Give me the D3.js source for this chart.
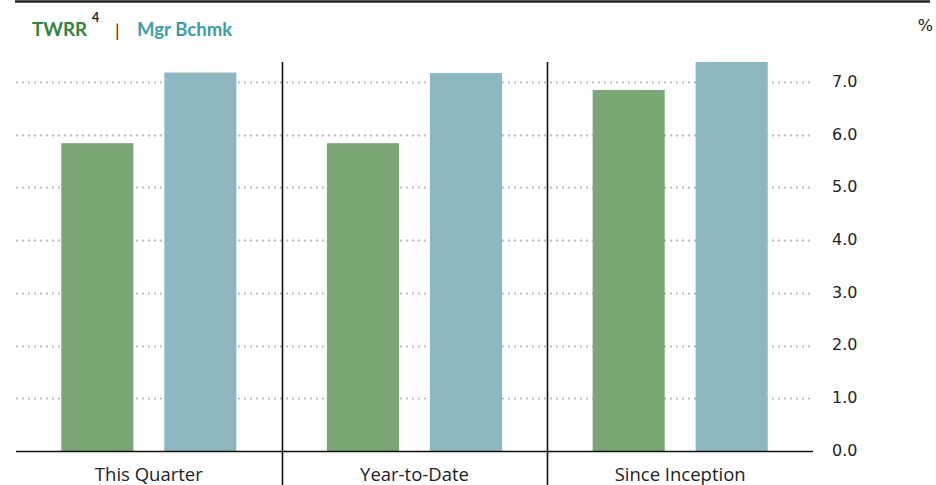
<!DOCTYPE html>
<html><head><meta charset="utf-8">
<script src="https://cdn.jsdelivr.net/npm/d3@7"></script>
<style>body{margin:0;background:#fff}svg{display:block}</style>
</head><body>
<script>
const categories = ["This Quarter", "Year-to-Date", "Since Inception"];
const seriesNames = ["TWRR", "Mgr Bchmk"];
const twrr = [5.84, 5.84, 6.85];
const bchmk = [7.18, 7.17, 7.38];
const tickValues = [0, 1, 2, 3, 4, 5, 6, 7];

const W = 936, H = 485;
const colors = ["#7ba776", "#8db8c1"];
const svg = d3.select("body").append("svg").attr("width", W).attr("height", H);

const x0 = d3.scaleBand().domain(categories).range([16, 813]).padding(0);
const x1 = d3.scaleBand().domain(seriesNames).range([0, x0.bandwidth()]).paddingInner(0.3).paddingOuter(0.44);
const y = d3.scaleLinear().domain([0, 7.38]).range([451, 62]);

// top border
svg.append("line").attr("x1", 15).attr("x2", 930).attr("y1", 1.5).attr("y2", 1.5)
  .attr("stroke", "#222").attr("stroke-width", 2.5);

// gridlines
svg.append("g").selectAll("line").data(tickValues.filter(d => d > 0)).join("line")
  .attr("x1", 16).attr("x2", 811)
  .attr("y1", d => Math.round(y(d)) + 0.5).attr("y2", d => Math.round(y(d)) + 0.5)
  .attr("stroke", "#bbb").attr("stroke-width", 2).attr("stroke-dasharray", "2,4");

// bars
const data = categories.map((c, i) => ({cat: c, vals: [twrr[i], bchmk[i]]}));
const g = svg.append("g").selectAll("g").data(data).join("g")
  .attr("transform", d => `translate(${x0(d.cat)},0)`);
g.selectAll("rect").data(d => d.vals.map((v, j) => ({s: seriesNames[j], v, j}))).join("rect")
  .attr("x", d => x1(d.s)).attr("width", x1.bandwidth())
  .attr("y", d => y(d.v)).attr("height", d => y(0) - y(d.v))
  .attr("fill", d => colors[d.j]);

// baseline
svg.append("line").attr("x1", 16).attr("x2", 813).attr("y1", y(0) + 0.5).attr("y2", y(0) + 0.5)
  .attr("stroke", "#111").attr("stroke-width", 1.5);

// separators
svg.append("g").selectAll("line").data(categories.slice(1)).join("line")
  .attr("x1", d => Math.round(x0(d)) + 0.5).attr("x2", d => Math.round(x0(d)) + 0.5)
  .attr("y1", 62).attr("y2", H)
  .attr("stroke", "#111").attr("stroke-width", 1.6);

// y tick labels
svg.append("g").selectAll("text").data(tickValues).join("text")
  .attr("x", 832).attr("y", d => y(d)).attr("dy", "0.3em")
  .attr("font-family", "DejaVu Sans").attr("font-size", 16).attr("fill", "#222")
  .text(d => d3.format(".1f")(d));

svg.append("text").attr("x", 933).attr("y", 31).attr("text-anchor", "end")
  .attr("font-family", "DejaVu Sans").attr("font-size", 16).attr("fill", "#222").text("%");

// category labels
svg.append("g").selectAll("text").data(categories).join("text")
  .attr("x", d => x0(d) + x0.bandwidth() / 2).attr("y", 481).attr("text-anchor", "middle")
  .attr("font-family", "Open Sans").attr("font-size", 18.5).attr("fill", "#222")
  .text(d => d);

// legend
const lg = svg.append("g").attr("font-family", "Lato").attr("font-weight", "bold");
lg.append("text").attr("x", 32).attr("y", 36).attr("font-size", 18.8).attr("fill", "#2e8540").text(seriesNames[0]);
lg.append("text").attr("x", 92).attr("y", 22).attr("font-size", 12.5).attr("fill", "#222").text("4");
lg.append("text").attr("x", 115).attr("y", 37).attr("font-size", 18).attr("font-weight", "normal").attr("fill", "#333").text("|");
lg.append("text").attr("x", 137).attr("y", 36).attr("font-size", 18.6).attr("fill", "#3a9fa6").text(seriesNames[1]);
</script>
</body></html>
